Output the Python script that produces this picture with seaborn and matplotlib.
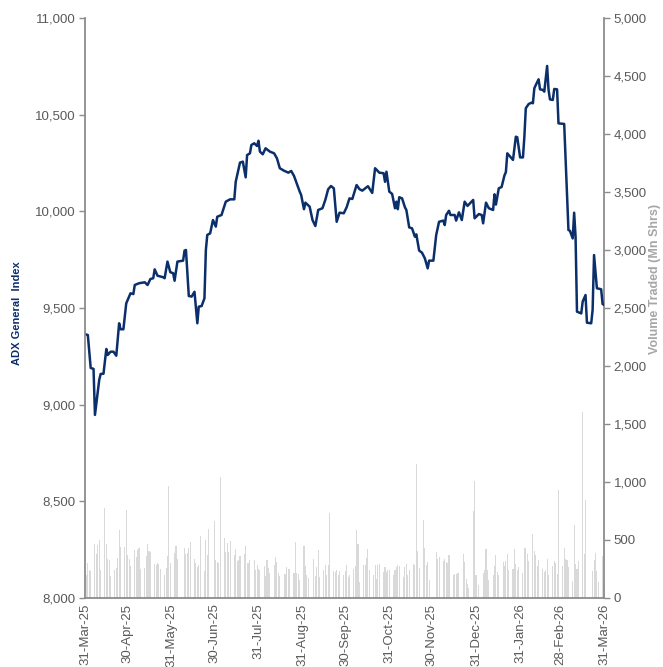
import numpy as np
import pandas as pd
import matplotlib
matplotlib.use("Agg")
import matplotlib.pyplot as plt
import seaborn as sns
from matplotlib.ticker import FuncFormatter, MultipleLocator

# ---------------- data ----------------
index_dates = [
    "2025-03-31", "2025-04-02", "2025-04-04", "2025-04-06", "2025-04-07", "2025-04-10", "2025-04-11",
    "2025-04-13", "2025-04-15", "2025-04-16", "2025-04-18", "2025-04-20", "2025-04-22", "2025-04-24",
    "2025-04-25", "2025-04-27", "2025-04-29", "2025-05-02", "2025-05-04", "2025-05-05", "2025-05-08",
    "2025-05-12", "2025-05-14", "2025-05-16", "2025-05-18", "2025-05-19", "2025-05-21", "2025-05-25",
    "2025-05-26", "2025-05-28", "2025-05-30", "2025-06-01", "2025-06-02", "2025-06-04", "2025-06-08",
    "2025-06-09", "2025-06-10", "2025-06-12", "2025-06-14", "2025-06-16", "2025-06-18", "2025-06-19",
    "2025-06-21", "2025-06-23", "2025-06-24", "2025-06-25", "2025-06-27", "2025-06-29", "2025-07-01",
    "2025-07-02", "2025-07-05", "2025-07-08", "2025-07-11", "2025-07-14", "2025-07-15", "2025-07-18",
    "2025-07-20", "2025-07-22", "2025-07-23", "2025-07-25", "2025-07-26", "2025-07-28", "2025-07-30",
    "2025-07-31", "2025-08-01", "2025-08-03", "2025-08-05", "2025-08-08", "2025-08-11", "2025-08-13",
    "2025-08-15", "2025-08-18", "2025-08-21", "2025-08-23", "2025-08-25", "2025-08-29", "2025-08-30",
    "2025-09-01", "2025-09-02", "2025-09-05", "2025-09-07", "2025-09-09", "2025-09-11", "2025-09-14",
    "2025-09-16", "2025-09-18", "2025-09-20", "2025-09-22", "2025-09-24", "2025-09-26", "2025-09-29",
    "2025-10-01", "2025-10-03", "2025-10-05", "2025-10-08", "2025-10-10", "2025-10-12", "2025-10-16",
    "2025-10-19", "2025-10-21", "2025-10-24", "2025-10-27", "2025-10-28", "2025-10-29", "2025-10-31",
    "2025-11-02", "2025-11-04", "2025-11-05", "2025-11-06", "2025-11-07", "2025-11-09", "2025-11-11",
    "2025-11-12", "2025-11-14", "2025-11-16", "2025-11-18", "2025-11-19", "2025-11-21", "2025-11-23",
    "2025-11-25", "2025-11-27", "2025-11-28", "2025-12-01", "2025-12-03", "2025-12-05", "2025-12-08",
    "2025-12-09", "2025-12-10", "2025-12-12", "2025-12-13", "2025-12-16", "2025-12-17", "2025-12-19",
    "2025-12-21", "2025-12-23", "2025-12-25", "2025-12-29", "2025-12-30", "2026-01-02", "2026-01-04",
    "2026-01-05", "2026-01-07", "2026-01-09", "2026-01-12", "2026-01-13", "2026-01-14", "2026-01-16",
    "2026-01-18", "2026-01-20", "2026-01-21", "2026-01-22", "2026-01-24", "2026-01-26", "2026-01-28",
    "2026-01-29", "2026-01-31", "2026-02-02", "2026-02-03", "2026-02-04", "2026-02-06", "2026-02-08",
    "2026-02-09", "2026-02-10", "2026-02-11", "2026-02-13", "2026-02-14", "2026-02-16", "2026-02-17",
    "2026-02-19", "2026-02-20", "2026-02-21", "2026-02-23", "2026-02-24", "2026-02-26", "2026-02-27",
    "2026-03-03", "2026-03-06", "2026-03-07", "2026-03-09", "2026-03-10", "2026-03-11", "2026-03-12",
    "2026-03-15", "2026-03-16", "2026-03-18", "2026-03-19", "2026-03-22", "2026-03-23", "2026-03-24",
    "2026-03-26", "2026-03-29", "2026-03-30", "2026-03-31",
]
index_values = [
    9365, 9360, 9190, 9185, 8947, 9128, 9159,
    9160, 9288, 9257, 9274, 9274, 9253, 9421,
    9390, 9390, 9524, 9576, 9572, 9619, 9628,
    9633, 9619, 9650, 9654, 9700, 9667, 9659,
    9654, 9740, 9685, 9680, 9641, 9740, 9745,
    9797, 9800, 9562, 9559, 9584, 9421, 9507,
    9510, 9550, 9800, 9878, 9886, 9955, 9921,
    9972, 9981, 10050, 10062, 10062, 10153, 10252,
    10257, 10176, 10291, 10300, 10343, 10352, 10338,
    10365, 10309, 10295, 10326, 10309, 10300, 10274,
    10223, 10210, 10200, 10209, 10183, 10102, 10085,
    10011, 10045, 10024, 9955, 9924, 10007, 10016,
    10059, 10114, 10131, 10119, 9946, 9993, 9990,
    10021, 10067, 10064, 10136, 10115, 10107, 10130,
    10095, 10223, 10200, 10197, 10153, 10205, 10102,
    10090, 10016, 10050, 10011, 10073, 10067, 10021,
    10007, 9917, 9912, 9869, 9881, 9797, 9786,
    9757, 9705, 9745, 9745, 9878, 9946, 9952,
    9929, 9981, 10003, 9981, 9981, 9952, 9995,
    9955, 10050, 10028, 10059, 9964, 9986, 9981,
    9938, 10045, 10016, 10007, 10088, 10035, 10119,
    10126, 10186, 10203, 10300, 10283, 10266, 10386,
    10383, 10279, 10279, 10386, 10533, 10555, 10562,
    10559, 10636, 10653, 10683, 10631, 10628, 10619,
    10752, 10628, 10579, 10576, 10633, 10631, 10455,
    10452, 9903, 9900, 9860, 9993, 9869, 9481,
    9472, 9533, 9567, 9424, 9421, 9490, 9774,
    9602, 9597, 9521, 9516,
]

# volume (Mn shares) per business day from 31-Mar-25 to 31-Mar-26; 0 = market closed
volume_start = "2025-03-31"
volume_end = "2026-03-31"
volume_mn = [
    0, 200, 305, 238, 233,
    468, 376, 454, 497, 244,
    779, 462, 333, 330, 187,
    238, 258, 347, 583, 440,
    440, 756, 368, 339, 276,
    411, 353, 411, 434, 247,
    261, 359, 462, 402, 396,
    290, 287, 302, 296, 253,
    195, 258, 359, 962, 300,
    388, 445, 339, 0, 0,
    431, 376, 388, 434, 483,
    333, 305, 267, 281, 531,
    230, 497, 374, 592, 0,
    661, 325, 310, 305, 1043,
    520, 396, 477, 396, 488,
    368, 422, 316, 330, 359,
    376, 445, 302, 300, 325,
    325, 238, 281, 253, 240,
    276, 187, 325, 261, 218,
    281, 353, 310, 218, 187,
    210, 210, 267, 253, 253,
    218, 483, 218, 210, 152,
    445, 276, 201, 172, 0,
    333, 187, 267, 411, 181,
    238, 281, 195, 281, 733,
    230, 224, 238, 195, 230,
    195, 230, 287, 181, 200,
    253, 273, 589, 462, 138,
    287, 281, 347, 419, 238,
    201, 281, 161, 287, 296,
    224, 267, 224, 244, 238,
    201, 238, 267, 281, 273,
    181, 267, 296, 201, 238,
    296, 281, 1152, 402, 261,
    669, 431, 281, 310, 152,
    0, 0, 396, 339, 353,
    319, 339, 310, 300, 368,
    195, 210, 210, 215, 218,
    376, 310, 167, 120, 86,
    747, 1006, 195, 0, 115,
    215, 238, 419, 238, 158,
    201, 273, 368, 224, 201,
    310, 273, 319, 376, 244,
    253, 425, 290, 238, 267,
    215, 434, 434, 376, 319,
    554, 405, 368, 276, 330,
    253, 224, 238, 333, 201,
    273, 319, 302, 210, 928,
    273, 434, 333, 325, 267,
    150, 626, 296, 253, 316,
    1603, 382, 848, 0, 0,
    230, 325, 391, 230, 138,
    359, 150,
]

tick_dates = ["2025-03-31", "2025-04-30", "2025-05-31", "2025-06-30", "2025-07-31", "2025-08-31",
              "2025-09-30", "2025-10-31", "2025-11-30", "2025-12-31", "2026-01-31", "2026-02-28",
              "2026-03-31"]
tick_labels = ["31-Mar-25", "30-Apr-25", "31-May-25", "30-Jun-25", "31-Jul-25", "31-Aug-25",
               "30-Sep-25", "31-Oct-25", "30-Nov-25", "31-Dec-25", "31-Jan-26", "28-Feb-26",
               "31-Mar-26"]

# ---------------- styling ----------------
sns.set_style("white")
plt.rcParams["font.family"] = ["Liberation Sans", "DejaVu Sans"]

NAVY = "#0b2f6b"
GREY_TXT = "#595959"
SPINE = "#8c8c8c"

fig = plt.figure(figsize=(6.63, 6.67), dpi=100)
ax = fig.add_axes([85 / 663, 1 - 598 / 667, 519 / 663, 580 / 667])
ax2 = ax.twinx()

# volume bars
bdates = pd.bdate_range(volume_start, volume_end)
vol = np.array(volume_mn, dtype=float)
assert len(vol) == len(bdates)
mask = vol > 0
ax2.bar(bdates[mask], vol[mask], width=0.75, color="#d9d9d9", linewidth=0, align="center")

# index line
line_df = pd.DataFrame({"date": pd.to_datetime(index_dates), "value": index_values})
sns.lineplot(data=line_df, x="date", y="value", ax=ax, color=NAVY, linewidth=1.8)

ax.set_zorder(ax2.get_zorder() + 1)
ax.patch.set_visible(False)

ax.set_xlim(pd.Timestamp("2025-03-31"), pd.Timestamp("2026-03-31"))
ax.set_ylim(8000, 11000)
ax2.set_ylim(0, 5000)
ax.yaxis.set_major_locator(MultipleLocator(500))
ax2.yaxis.set_major_locator(MultipleLocator(500))
fmt = FuncFormatter(lambda v, p: f"{int(v):,}")
ax.yaxis.set_major_formatter(fmt)
ax2.yaxis.set_major_formatter(fmt)

ax.set_xticks(pd.to_datetime(tick_dates))
ax.set_xticklabels(tick_labels, rotation=90)

for a in (ax, ax2):
    a.spines["top"].set_visible(False)
    for s in a.spines.values():
        s.set_color(SPINE)
        s.set_linewidth(1.3)
ax.spines["right"].set_visible(False)
ax2.spines["left"].set_visible(False)
ax2.spines["bottom"].set_visible(False)

ax.tick_params(axis="y", direction="out", length=4, width=1, color=SPINE,
               labelcolor=GREY_TXT, labelsize=9.5, pad=3, left=True)
ax2.tick_params(axis="y", direction="out", length=4, width=1, color=SPINE,
                labelcolor=GREY_TXT, labelsize=9.5, pad=3, right=True)
ax.tick_params(axis="x", length=0, labelcolor=GREY_TXT, labelsize=9.5, pad=4)

ax.set_xlabel("")
ax.set_ylabel("")
ax2.set_ylabel("")

fig.text(17 / 663, 1 - 313 / 667, "ADX General  Index", rotation=90, ha="center", va="center",
         color=NAVY, fontsize=8, fontweight="bold")
fig.text(655 / 663, 1 - 279 / 667, "Volume Traded (Mn Shrs)", rotation=90, ha="center", va="center",
         color="#a6a6a6", fontsize=9, fontweight="bold")

fig.savefig("out.png", dpi=100, facecolor="white")
